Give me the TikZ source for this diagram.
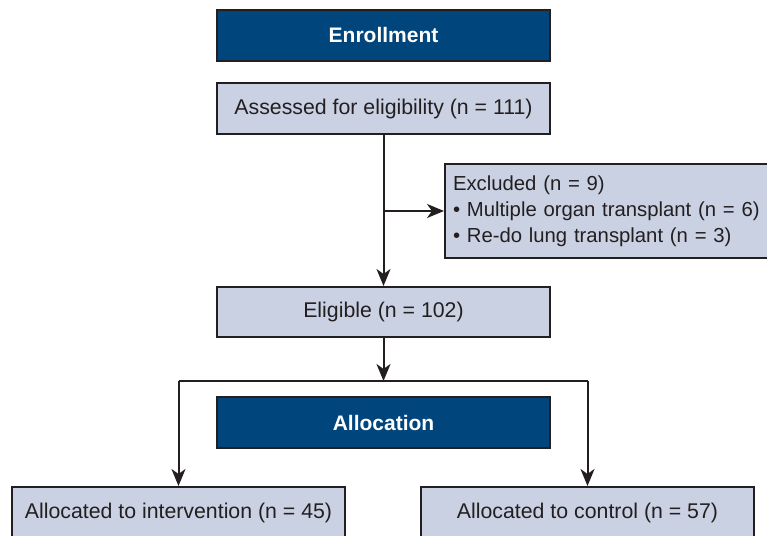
\documentclass[tikz,border=0pt]{standalone}
\usepackage{fontspec}
\setmainfont{Liberation Sans}
\usetikzlibrary{arrows.meta}
\definecolor{darkblue}{RGB}{0,69,124}
\definecolor{lightbox}{RGB}{201,209,227}
\definecolor{edge}{RGB}{35,31,32}
\begin{document}
\begin{tikzpicture}[x=1pt,y=1pt,
  header/.style={draw=edge,line width=2pt,fill=darkblue,text=white,minimum width=333pt,minimum height=51pt,inner sep=0pt,font=\fontsize{21}{24}\selectfont\bfseries},
  infobox/.style={draw=edge,line width=2pt,fill=lightbox,text=edge,minimum width=333pt,minimum height=51pt,inner sep=0pt,font=\fontsize{21.3}{24}\selectfont},
  conn/.style={draw=edge,line width=2pt},
  arr/.style={conn,-{Stealth[length=17pt,width=14pt,inset=5pt]}}]
\clip (0,0) rectangle (767,535);
\fill[white] (0,0) rectangle (767,535);
\node[header] (enroll) at (383.5,499.5) {Enrollment};
\node[infobox] (assess) at (383.5,426.5) {Assessed for eligibility (n = 111)};
\node[infobox,anchor=west,minimum width=340pt,minimum height=94pt,text width=330pt,align=left,inner xsep=8pt,font=\fontsize{20.3}{26}\selectfont] (excl) at (444,324) {Excluded (n = 9)\\\textbullet{} Multiple organ transplant (n = 6)\\\textbullet{} Re-do lung transplant (n = 3)};
\node[infobox,minimum height=50pt] (elig) at (383.5,223) {Eligible (n = 102)};
\node[header] (alloc) at (383.5,112.5) {Allocation};
\node[infobox,minimum height=52pt] (interv) at (178.5,22) {Allocated to intervention (n = 45)};
\node[infobox,minimum height=52pt] (ctrl) at (587.5,22) {Allocated to control (n = 57)};
\coordinate (branch) at (383.5,324);
\coordinate (split) at (383.5,154);
\coordinate (splitL) at (178.5,154);
\coordinate (splitR) at (587.5,154);
\draw[arr] (assess.south) -- (elig.north);
\draw[arr] (branch) -- (excl.west);
\draw[arr] (elig.south) -- (split);
\draw[conn] (splitL) -- (splitR);
\draw[arr] (splitL) -- (interv.north);
\draw[arr] (splitR) -- (ctrl.north);
\end{tikzpicture}
\end{document}
